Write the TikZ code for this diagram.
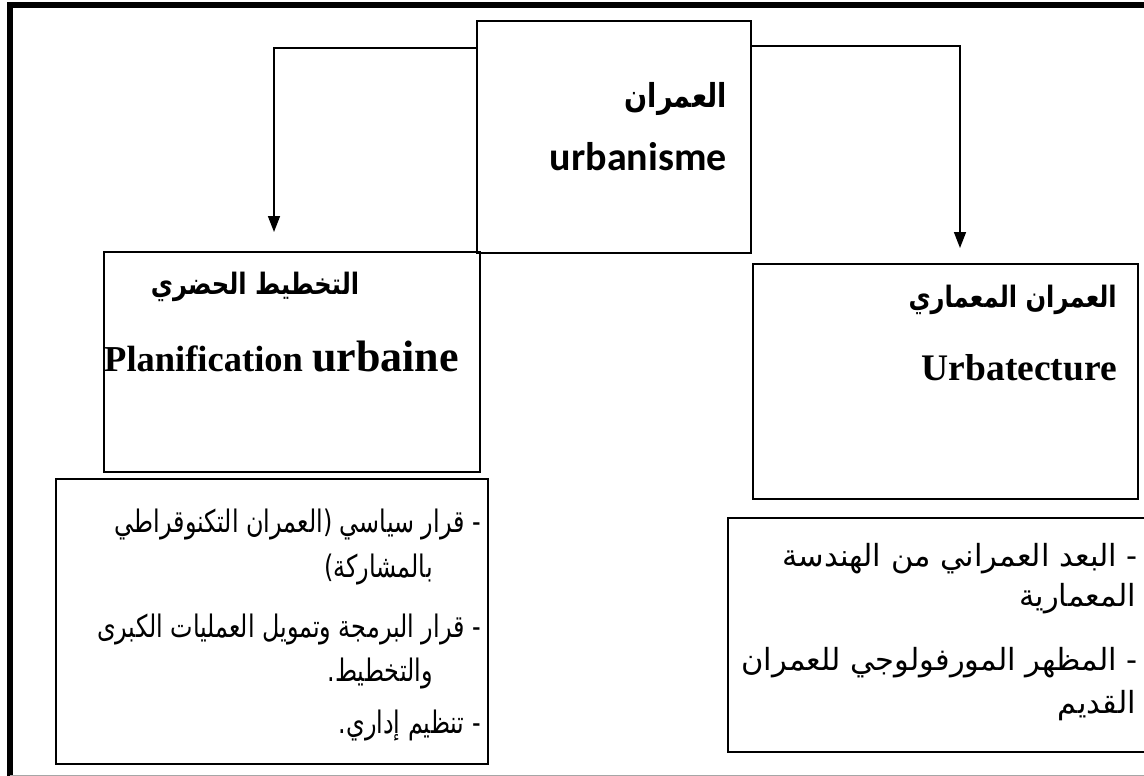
\documentclass[tikz,border=0pt]{standalone}
\usepackage{fontspec}
\setmainfont{Liberation Serif}
\newfontfamily\arabicfont[Script=Arabic]{DejaVu Sans}
\newfontfamily\arabicnarrow[Script=Arabic,FakeStretch=0.77]{DejaVu Sans}
\newfontfamily\arabictitle[Script=Arabic,FakeStretch=0.82]{DejaVu Sans}
\newfontfamily\calibrifont{Carlito}
\TeXXeTstate=1
\usetikzlibrary{arrows.meta}
\begin{document}
\begin{tikzpicture}[x=1pt,y=-1pt,
  box/.style={draw, line width=1.6pt, inner sep=0pt, anchor=north west},
  conn/.style={line width=1.6pt, -{Triangle[width=12pt,length=16pt]}},
  artitle/.style={inner sep=0pt, font=\arabictitle\bfseries\fontsize{29.5}{34}\selectfont},
  arleft/.style={inner sep=0pt, anchor=base east, font=\arabicnarrow\fontsize{31}{36}\selectfont},
  arright/.style={inner sep=0pt, anchor=base east, font=\arabicfont\fontsize{30.5}{36}\selectfont},
  latitle/.style={inner sep=0pt, font=\bfseries\fontsize{37.5}{44}\selectfont}]
\useasboundingbox (0,0) rectangle (1144,776);
\fill[white] (0,0) rectangle (1144,776);
% outer frame
\draw[line width=6pt] (10,776) -- (10,5) -- (1144,5);
\draw[black!35, line width=1pt] (10,775.5) -- (1144,775.5);
% boxes
\node[box, minimum width=274pt, minimum height=232pt] (c) at (476,20) {};
\node[box, minimum width=376pt, minimum height=220pt] (pl) at (103,251) {};
\node[box, minimum width=385pt, minimum height=235pt] (ur) at (752,263) {};
\node[box, minimum width=432pt, minimum height=285pt] (bl) at (55,478) {};
\node[box, minimum width=430pt, minimum height=234pt] (br) at (727,517) {};
% connectors
\coordinate (la) at (274,232);
\coordinate (ra) at (960,248);
\draw[conn] ([yshift=-28pt]c.north west) -| (la);
\draw[conn] ([yshift=-26pt]c.north east) -| (ra);
% central texts
\node[artitle, anchor=east, font=\arabictitle\bfseries\fontsize{33}{38}\selectfont] (t1) at (727,99) {\beginR العمران\endR};
\node[inner sep=0pt, anchor=east, font=\calibrifont\bfseries\fontsize{40}{48}\selectfont] (t2) at (727,157) {urbanisme};
% left middle
\node[artitle] (t3) at (255,287) {\beginR التخطيط الحضري\endR};
\node[latitle, anchor=west, font=\bfseries\fontsize{36.5}{42}\selectfont] (t4) at (104,357) {Planification {\fontsize{44}{50}\selectfont urbaine}};
% right middle
\node[artitle, anchor=east] (t5) at (1117,300) {\beginR العمران المعماري\endR};
\node[latitle, anchor=east] (t6) at (1117,368) {Urbatecture};
% bottom left
\node[arleft] (a1) at (481,532) {\beginR - قرار سياسي (العمران التكنوقراطي\endR};
\node[arleft] (a2) at (433,577) {\beginR بالمشاركة)\endR};
\node[arleft] (a3) at (481,637) {\beginR - قرار البرمجة وتمويل العمليات الكبرى\endR};
\node[arleft] (a4) at (433,681) {\beginR والتخطيط.\endR};
\node[arleft] (a5) at (481,733) {\beginR - تنظيم إداري.\endR};
% bottom right
\node[arright] (b1) at (1138,566) {\beginR - البعد العمراني من الهندسة\endR};
\node[arright] (b2) at (1136,606) {\beginR المعمارية\endR};
\node[arright] (b3) at (1138,670) {\beginR - المظهر المورفولوجي للعمران\endR};
\node[arright] (b4) at (1136,713) {\beginR القديم\endR};
\end{tikzpicture}
\end{document}
